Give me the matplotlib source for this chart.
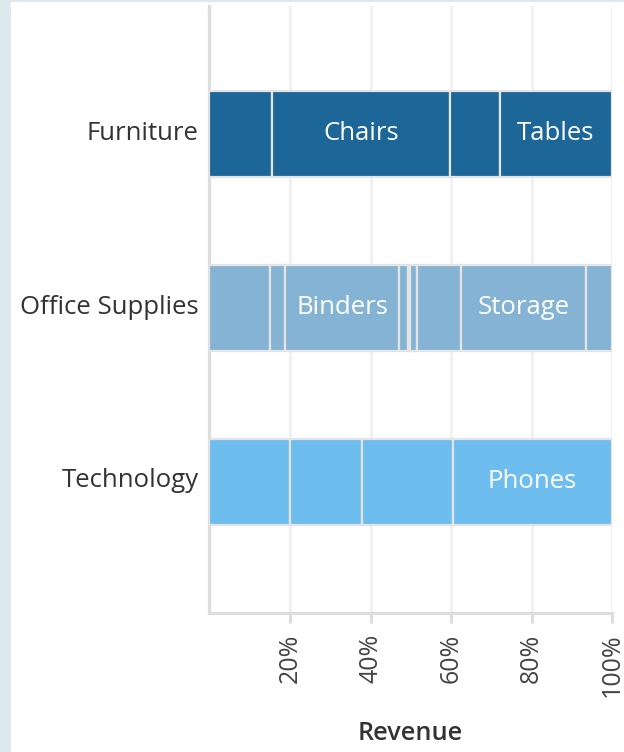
import matplotlib
matplotlib.use("Agg")
import matplotlib.pyplot as plt
import matplotlib.transforms as mtransforms
from matplotlib.patches import Rectangle
import numpy as np

plt.rcParams['font.family'] = ['Open Sans', 'DejaVu Sans']

categories = ["Furniture", "Office Supplies", "Technology"]
sub_names = [
    ["Bookcases", "Chairs", "Furnishings", "Tables"],
    ["Appliances", "Art", "Binders", "Envelopes", "Fasteners", "Labels",
     "Paper", "Storage", "Supplies"],
    ["Accessories", "Copiers", "Machines", "Phones"],
]
# revenue share (%) of each sub-category within its category
shares = [
    [15.5, 44.3, 12.4, 27.9],
    [15.0, 3.8, 28.3, 2.3, 0.4, 1.7, 10.9, 31.1, 6.5],
    [20.0, 17.9, 22.6, 39.5],
]
colors = ["#1c6698", "#84b3d4", "#6ebdef"]
xticks = [20, 40, 60, 80, 100]
xtick_labels = ["20%", "40%", "60%", "80%", "100%"]

W, H = 624, 752
fig = plt.figure(figsize=(W / 100, H / 100), dpi=100)
fig.patch.set_facecolor("#dde9ec")
bg = Rectangle((11 / W, 0), 1 - 11 / W, 1 - 2 / H,
               transform=fig.transFigure, facecolor="white",
               edgecolor="none", zorder=-100)
fig.add_artist(bg)

ax_left, ax_right, ax_top, ax_bottom = 209.5, 612, 6, 613
ax = fig.add_axes([ax_left / W, 1 - ax_bottom / H,
                   (ax_right - ax_left) / W, (ax_bottom - ax_top) / H])
ax.set_facecolor("none")
ax.set_zorder(1)

bar_h = 0.49
for i, (cat, vals, names) in enumerate(zip(categories, shares, sub_names)):
    vals = np.array(vals, dtype=float)
    vals = vals / vals.sum() * 100
    left = 0.0
    for v, n in zip(vals, names):
        ax.barh(i, v, left=left, height=bar_h, color=colors[i],
                edgecolor="#e4e4e4", linewidth=1.6, zorder=3)
        if v >= 25:
            ax.text(left + v / 2, i - 0.003, n, ha="center", va="center",
                    color="white", fontsize=18.5, zorder=4)
        left += v

ax.set_xlim(0, 100)
ax.set_ylim(2.753, -0.736)
ax.set_yticks(range(len(categories)))
ax.set_yticklabels([])
ax.tick_params(axis="y", length=0)
# category labels (placed as text so they can sit slightly above centre)
lab_trans = ax.get_yaxis_transform() + mtransforms.ScaledTranslation(
    -11 / 100, 1 / 100, fig.dpi_scale_trans)
for i, cat in enumerate(categories):
    ax.text(0, i, cat, transform=lab_trans, ha="right", va="center",
            fontsize=18.5, color="#333333")

ax.set_xticks(xticks)
ax.set_xticklabels(xtick_labels, rotation=90, fontsize=18, color="#444444")
ax.tick_params(axis="x", length=7, width=2.2, color="#dddddd", pad=8)
ax.grid(axis="x", color="#f2f2f2", linewidth=2.4, zorder=0)
ax.set_axisbelow(True)
for s in ["top", "right"]:
    ax.spines[s].set_visible(False)
for s in ["left", "bottom"]:
    ax.spines[s].set_color("#dddddd")
    ax.spines[s].set_linewidth(2.3)
ax.set_xlabel("Revenue", fontsize=18.2, color="#333333",
              fontweight="semibold", labelpad=17)

fig.savefig("out.png", dpi=100, facecolor=fig.get_facecolor())
